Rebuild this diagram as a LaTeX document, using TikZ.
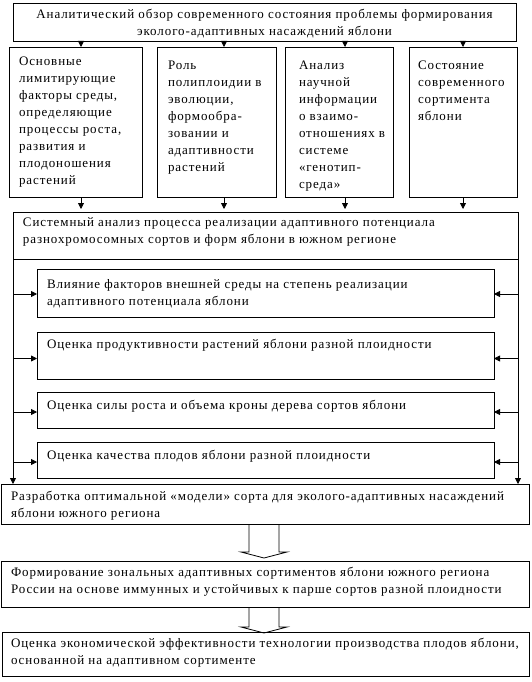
\documentclass[tikz,border=0pt]{standalone}
\usepackage{fontspec}
\setmainfont{Liberation Serif}[LetterSpace=7]
\usetikzlibrary{arrows.meta,calc}
\newcommand\fs{\fontsize{13}{17}\selectfont}
\tikzset{
  box/.style={draw, line width=0.8pt, inner sep=0pt, outer sep=0pt, anchor=north west},
  txt/.style={inner sep=0pt, outer sep=0pt, anchor=north west, align=left, font=\fs},
  arr/.style={line width=0.8pt, -{Triangle[length=6pt,width=6pt]}},
  blk/.style={line width=0.8pt}
}
\begin{document}
\begin{tikzpicture}[x=1pt,y=-1pt]
\useasboundingbox (0,0) rectangle (531,682);
% boxes
\node[box, minimum width=503, minimum height=38] (top) at (13,3) {};
\node[box, minimum width=133, minimum height=150] (b1) at (9,47) {};
\node[box, minimum width=119, minimum height=150] (b2) at (157,47) {};
\node[box, minimum width=108, minimum height=150] (b3) at (285,47) {};
\node[box, minimum width=108, minimum height=150] (b4) at (409,47) {};
\node[box, minimum width=505, minimum height=47] (sys) at (13,212) {};
\node[box, minimum width=457, minimum height=48] (ba) at (37,269) {};
\node[box, minimum width=457, minimum height=47] (bb) at (37,332) {};
\node[box, minimum width=457, minimum height=36] (bc) at (37,392) {};
\node[box, minimum width=457, minimum height=36] (bd) at (37,442) {};
\node[box, minimum width=528, minimum height=40] (mod) at (1,484) {};
\node[box, minimum width=528, minimum height=46] (bf) at (1,561) {};
\node[box, minimum width=527, minimum height=44] (bg) at (2,632) {};
% texts
\node[txt, anchor=north, align=center] (ttop) at (264.5,6.25) {\strut Аналитический обзор современного состояния проблемы формирования\\эколого-адаптивных насаждений яблони};
\node[txt] (t1) at (19,53.3) {\strut Основные\\лимитирующие\\факторы среды,\\определяющие\\процессы роста,\\развития и\\плодоношения\\растений};
\node[txt] (t2) at (168,58) {\strut Роль\\полиплоидии в\\эволюции,\\формообра-\\зовании и\\адаптивности\\растений};
\node[txt] (t3) at (299,58) {\strut Анализ\\научной\\информации\\о взаимо-\\отношениях в\\системе\\«генотип-\\среда»};
\node[txt] (t4) at (418,58) {\strut Состояние\\современного\\сортимента\\яблони};
\node[txt] (tsys) at (23,214.5) {\strut Системный анализ процесса реализации адаптивного потенциала\\разнохромосомных сортов и форм яблони в южном регионе};
\node[txt] (ta) at (47,276.5) {\strut Влияние факторов внешней среды на степень реализации\\адаптивного потенциала яблони};
\node[txt] (tb) at (47,336.5) {\strut Оценка продуктивности растений яблони разной плоидности};
\node[txt] (tc) at (47,397.5) {\strut Оценка силы роста и объема кроны дерева сортов яблони};
\node[txt] (td) at (47,447.5) {\strut Оценка качества плодов яблони разной плоидности};
\node[txt] (tmod) at (11,488.5) {\strut Разработка оптимальной «модели» сорта для эколого-адаптивных насаждений\\яблони южного региона};
\node[txt] (tf) at (11,564.5) {\strut Формирование зональных адаптивных сортиментов яблони южного региона\\России на основе иммунных и устойчивых к парше сортов разной плоидности};
\node[txt] (tg) at (11,635.5) {\strut Оценка экономической эффективности технологии производства плодов яблони,\\основанной на адаптивном сортименте};
% arrows top -> boxes
\draw[arr] ([xshift=5.5pt]b1.north |- top.south) -- ([xshift=5.5pt]b1.north);
\draw[arr] ([xshift=7.5pt]b2.north |- top.south) -- ([xshift=7.5pt]b2.north);
\draw[arr] ([xshift=6pt]b3.north |- top.south) -- ([xshift=6pt]b3.north);
\draw[arr] (b4.north |- top.south) -- (b4.north);
% arrows boxes -> system
\draw[arr, shorten >=3pt] ([xshift=5.5pt]b1.south) -- ([xshift=5.5pt]b1.south |- sys.north);
\draw[arr, shorten >=3pt] ([xshift=7.5pt]b2.south) -- ([xshift=7.5pt]b2.south |- sys.north);
\draw[arr, shorten >=3pt] ([xshift=6pt]b3.south) -- ([xshift=6pt]b3.south |- sys.north);
\draw[arr, shorten >=3pt] (b4.south) -- (b4.south |- sys.north);
% side verticals
\coordinate (lv) at (sys.south west);
\coordinate (rv) at (sys.south east);
\draw[arr] (lv) -- (lv |- mod.north);
\draw[arr] (rv) -- (rv |- mod.north);
\foreach \b/\dy in {ba/1, bb/3, bc/2, bd/2}{
  \draw[arr] ([yshift=-\dy pt]lv |- \b.west) -- ([yshift=-\dy pt]\b.west);
  \draw[arr] ([yshift=-\dy pt]rv |- \b.east) -- ([yshift=-\dy pt]\b.east);
}
% block arrows
\draw[blk] ([xshift=-16pt]mod.south) -- ++(0,28) -- ++(-8,0) -- ++(23,6) -- ++(23,-6) -- ++(-8,0) -- ++(0,-28);
\draw[blk] ([xshift=-16pt]bf.south) -- ++(0,20) -- ++(-8,0) -- ++(23,6) -- ++(23,-6) -- ++(-8,0) -- ++(0,-20);
\end{tikzpicture}
\end{document}
